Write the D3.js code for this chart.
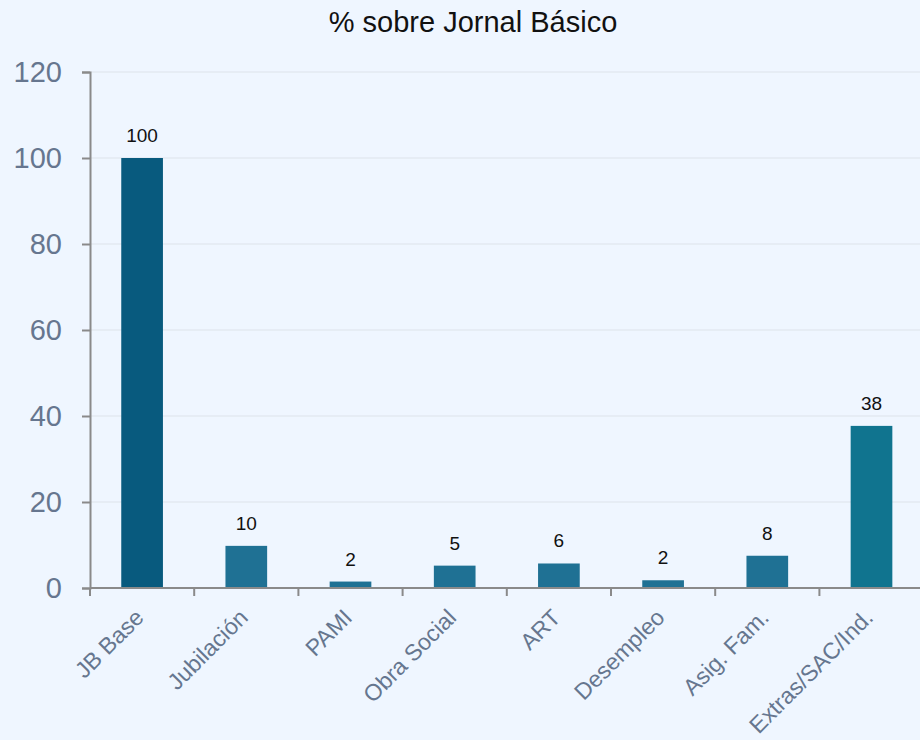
<!DOCTYPE html>
<html>
<head>
<meta charset="utf-8">
<script src="https://cdn.jsdelivr.net/npm/d3@7"></script>
<style>
  body { margin: 0; background: #eff6ff; }
  svg { display: block; font-family: "Liberation Sans", Arial, sans-serif; }
</style>
</head>
<body>
<script>
var categories = ["JB Base", "Jubilación", "PAMI", "Obra Social", "ART", "Desempleo", "Asig. Fam.", "Extras/SAC/Ind."];
var values = [100, 9.8, 1.5, 5.2, 5.7, 1.8, 7.5, 37.7];
var labels = ["100", "10", "2", "5", "6", "2", "8", "38"];
var barColors = ["#085a7e", "#1f7194", "#1f7194", "#1f7194", "#1f7194", "#1f7194", "#1f7194", "#10748f"];
var yTicks = [0, 20, 40, 60, 80, 100, 120];
var title = "% sobre Jornal Básico";

var w = 920;
var h = 740;
var margin = {top: 72, left: 90, right: 0, bottom: 152};

var svg = d3.select("body")
			.append("svg")
			.attr("width", w)
			.attr("height", h);

svg.append("rect")
	.attr("width", w)
	.attr("height", h)
	.attr("fill", "#eff6ff");

var x = d3.scaleBand()
	.domain(categories)
	.range([margin.left, margin.left + 8 * 104.2])
	.paddingInner(0.6)
	.paddingOuter(0.3);

var y = d3.scaleLinear()
	.domain([0, 120])
	.range([h - margin.bottom, margin.top]);

// grid
svg.append("g")
	.selectAll("line")
	.data(yTicks.slice(1))
	.enter()
	.append("line")
	.attr("x1", margin.left)
	.attr("x2", w)
	.attr("y1", function(d){ return y(d); })
	.attr("y2", function(d){ return y(d); })
	.attr("stroke", "#dde3ea")
	.attr("stroke-width", 1);

// bars
svg.selectAll("rect.bar")
	.data(values)
	.enter()
	.append("rect")
	.attr("class", "bar")
	.attr("x", function(d, i){ return x(categories[i]); })
	.attr("y", function(d){ return y(d); })
	.attr("width", x.bandwidth())
	.attr("height", function(d){ return y(0) - y(d); })
	.attr("fill", function(d, i){ return barColors[i]; });

svg.selectAll("text.val")
	.data(values)
	.enter()
	.append("text")
	.attr("class", "val")
	.text(function(d, i){ return labels[i]; })
	.attr("x", function(d, i){ return x(categories[i]) + x.bandwidth() / 2; })
	.attr("y", function(d){ return y(d) - 16; })
	.attr("text-anchor", "middle")
	.attr("font-size", 19)
	.attr("fill", "#111");

// y axis
var yAxis = svg.append("g")
	.attr("transform", "translate(" + margin.left + ",0)")
	.call(d3.axisLeft(y).tickValues(yTicks).tickSize(8).tickPadding(20));
yAxis.select(".domain").attr("stroke", "#8a8a8a").attr("stroke-width", 2);
yAxis.selectAll(".tick line").attr("stroke", "#8a8a8a").attr("stroke-width", 2);
yAxis.selectAll(".tick text")
	.attr("font-size", 29)
	.attr("font-family", "Liberation Sans, Arial, sans-serif")
	.attr("fill", "#66768f");

// x axis: line, ticks at band edges, rotated labels
var xAxisG = svg.append("g")
	.attr("transform", "translate(0," + y(0) + ")");
xAxisG.append("line")
	.attr("x1", margin.left)
	.attr("x2", w)
	.attr("stroke", "#8a8a8a")
	.attr("stroke-width", 2);
xAxisG.selectAll("line.tk")
	.data(categories)
	.enter()
	.append("line")
	.attr("class", "tk")
	.attr("x1", function(d){ return x(d) - (x.step() - x.bandwidth()) / 2; })
	.attr("x2", function(d){ return x(d) - (x.step() - x.bandwidth()) / 2; })
	.attr("y1", 0)
	.attr("y2", 8)
	.attr("stroke", "#8a8a8a")
	.attr("stroke-width", 2);

xAxisG.selectAll("text")
	.data(categories)
	.enter()
	.append("text")
	.text(function(d){ return d; })
	.attr("text-anchor", "end")
	.attr("font-size", 23)
	.attr("fill", "#66768f")
	.attr("transform", function(d){
		var cx = x(d) + x.bandwidth() / 2 + 3;
		return "translate(" + cx + ",31) rotate(-45)";
	});

svg.append("text")
	.text(title)
	.attr("x", 473)
	.attr("y", 32)
	.attr("text-anchor", "middle")
	.attr("font-size", 29)
	.attr("fill", "#111");
</script>
</body>
</html>
